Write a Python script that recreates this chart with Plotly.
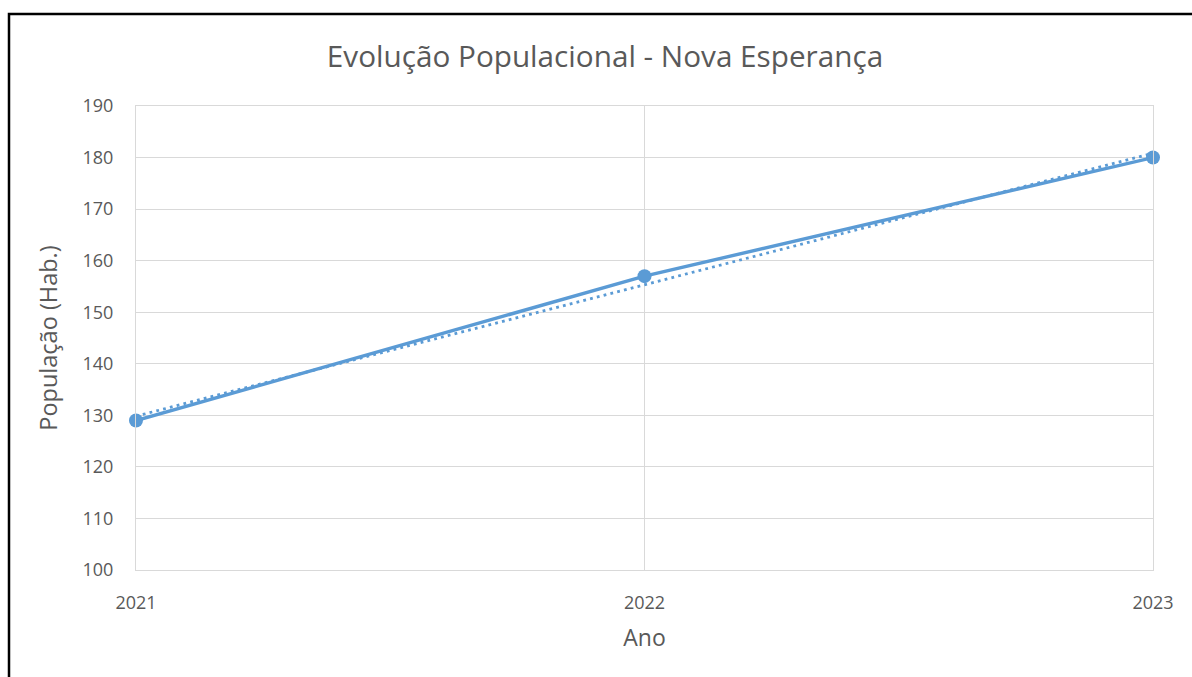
import numpy as np
import plotly.graph_objects as go

# Population series
anos = [2021, 2022, 2023]
populacao = [129, 157, 180]

y_ticks = [100, 110, 120, 130, 140, 150, 160, 170, 180, 190]

BLUE = "#5B9BD5"
TEXT = "#595959"
GRID = "#D9D9D9"
FONT = "Open Sans"

# Linear trendline fitted to the series
coef = np.polyfit(anos, populacao, 1)
tendencia = np.polyval(coef, anos)

fig = go.Figure()

fig.add_trace(go.Scatter(
    x=anos, y=tendencia, mode="lines",
    line=dict(color=BLUE, width=2.8, dash="2.8px,4.2px"),
    hoverinfo="skip", showlegend=False, cliponaxis=False,
))

fig.add_trace(go.Scatter(
    x=anos, y=populacao, mode="lines+markers",
    line=dict(color=BLUE, width=3.4),
    marker=dict(color=BLUE, size=14),
    showlegend=False, cliponaxis=False,
))

W, H = 1192, 677
L, R, T, B = 136, 39, 106, 107
pw, ph = W - L - R, H - T - B

def px_x(p):
    return (p - L) / pw

def px_y(p):
    return (H - B - p) / ph

# Outer frame around the chart area
fig.add_shape(
    type="rect", xref="paper", yref="paper",
    x0=px_x(9), x1=px_x(W + 20), y0=px_y(H + 20), y1=px_y(14),
    line=dict(color="black", width=2.5), fillcolor="rgba(0,0,0,0)",
    layer="above",
)

fig.update_layout(
    width=W, height=H,
    margin=dict(l=L, r=R, t=T, b=B),
    paper_bgcolor="white", plot_bgcolor="white",
    font=dict(family=FONT, color=TEXT),
    title=dict(
        text="Evolução Populacional - Nova Esperança",
        x=605 / W, xanchor="center",
        y=1 - 57 / H, yanchor="middle",
        font=dict(size=29.7, color=TEXT, family=FONT),
    ),
    xaxis=dict(
        range=[2021, 2023], tickvals=anos, ticktext=[str(a) for a in anos],
        showgrid=True, gridcolor=GRID, gridwidth=1,
        showline=True, linecolor=GRID, linewidth=1, mirror=True,
        zeroline=False, ticks="", tickfont=dict(size=18, color=TEXT),
        ticklabelstandoff=16,
        title=dict(text="Ano", font=dict(size=23, color=TEXT), standoff=17),
    ),
    yaxis=dict(
        range=[100, 190], tickvals=y_ticks,
        showgrid=True, gridcolor=GRID, gridwidth=1,
        showline=True, linecolor=GRID, linewidth=1, mirror=True,
        zeroline=False, ticks="", tickfont=dict(size=18, color=TEXT),
        ticklabelstandoff=18,
        title=dict(text="População (Hab.)", font=dict(size=23.5, color=TEXT), standoff=18),
    ),
)

fig.write_html("out.html")
